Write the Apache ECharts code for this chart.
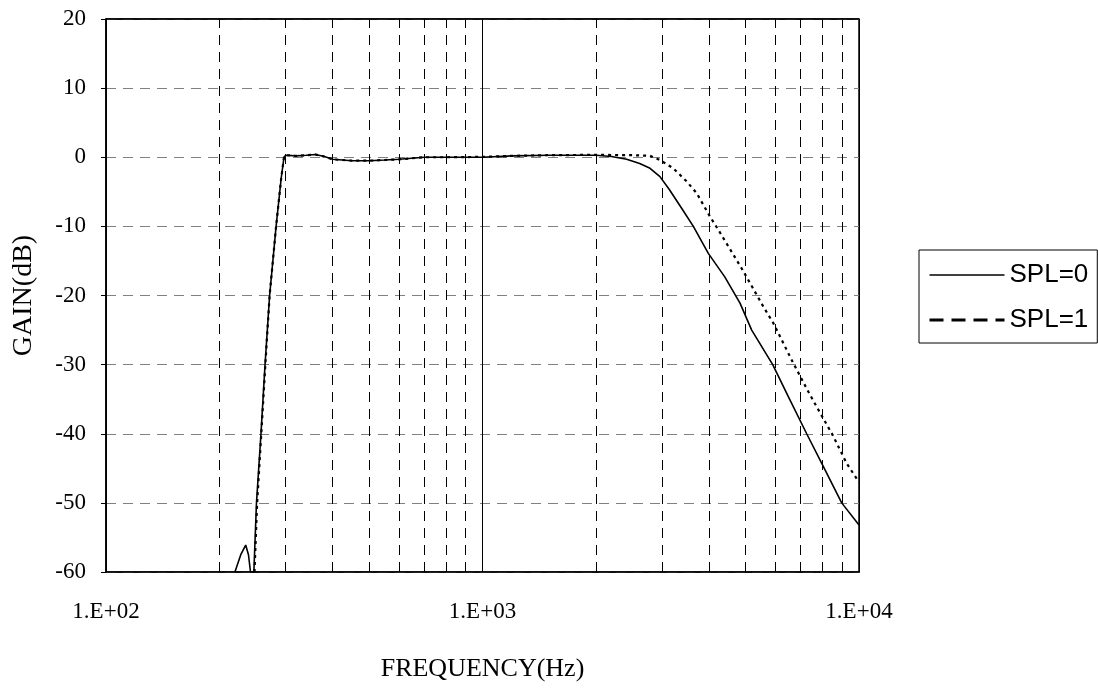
<!DOCTYPE html>
<html>
<head>
<meta charset="utf-8">
<script src="https://cdn.jsdelivr.net/npm/echarts@6/dist/echarts.min.js"></script>
<style>html,body{margin:0;padding:0;background:#fff;}#c{width:1098px;height:691px;}</style>
</head>
<body>
<div id="c"></div>
<script>
// ---- data ----
var seriesNames = ['SPL=0', 'SPL=1'];
var spl0 = [
  [220,-60],[228,-57.5],[235,-56.1],[239,-57.5],[242,-60],[247,-60],
  [251,-50],[258,-40],[264.5,-30],[272,-20],[283,-10],[292,-3],[297,0],
  [300,0.3],[320,0.2],[340,0.3],[360,0.4],[380,0.1],[400,-0.3],[450,-0.5],
  [500,-0.5],[550,-0.4],[600,-0.3],[700,0],[800,0],[1000,0],[1200,0.2],
  [1500,0.3],[2000,0.3],[2200,0.1],[2415,-0.3],[2615,-0.9],[2786,-1.6],
  [2960,-2.8],[3138,-4.7],[3400,-7.6],[3631,-10],[3979,-13.9],[4400,-17.3],
  [4830,-21.1],[5188,-25],[5900,-30],[6500,-34.7],[7262,-40],[8000,-44.5],
  [8995,-50],[10000,-53.2]
];
var spl1 = [
  [248,-60],[252,-50],[258.5,-40],[265,-30],[272,-20],[283,-10],[292,-3],[297,0],
  [300,0.3],[320,0.2],[340,0.3],[360,0.4],[380,0.1],[400,-0.3],[450,-0.5],
  [500,-0.5],[550,-0.4],[600,-0.3],[700,0],[800,0],[1000,0.05],[1200,0.2],
  [1500,0.3],[2000,0.35],[2500,0.3],[2786,0.2],[2960,-0.4],[3212,-1.6],
  [3486,-3.5],[3707,-5.2],[4022,-8.6],[4230,-10.5],[4638,-14.1],[4881,-16.1],
  [5135,-18.2],[5570,-21.6],[5922,-24],[6692,-29.8],[7333,-33.9],[7719,-36.1],
  [8515,-40.2],[9276,-44.3],[10000,-47]
];
var xTickValues = [100, 1000, 10000];
var xTickLabels = ['1.E+02', '1.E+03', '1.E+04'];
var minorGridFreqs = [200,300,400,500,600,700,800,900,2000,3000,4000,5000,6000,7000,8000,9000];
var yMin = -60, yMax = 20, yStep = 10;

// ---- chart ----
var chart = echarts.init(document.getElementById('c'), null, {renderer: 'canvas'});
var serif = 'Liberation Serif, Times New Roman, serif';
var gridMarks = minorGridFreqs.map(function (f) { return {xAxis: f}; });
gridMarks.push({yAxis: yMax, lineStyle: {color: '#000', width: 1.5, type: 'solid'}});
var option = {
  backgroundColor: '#fff',
  animation: false,
  grid: {left: 106, right: 239, top: 19, bottom: 119, show: true, borderColor: '#000', borderWidth: 1.5, backgroundColor: 'transparent'},
  legend: {
    orient: 'vertical', left: 919, top: 250,
    padding: [12, 9, 10, 9], itemGap: 19, itemWidth: 75, itemHeight: 14,
    borderColor: '#000', borderWidth: 1, backgroundColor: '#fff',
    textStyle: {fontFamily: 'Liberation Sans, Arial, sans-serif', fontSize: 26, color: '#000'},
    data: [
      {name: seriesNames[0], itemStyle: {opacity: 0}, lineStyle: {color: '#000', width: 1.5, type: 'solid'}},
      {name: seriesNames[1], itemStyle: {opacity: 0}, lineStyle: {color: '#000', width: 3, type: [14, 8]}}
    ]
  },
  xAxis: {
    type: 'log', logBase: 10, min: 100, max: 10000,
    name: 'FREQUENCY(Hz)', nameLocation: 'middle', nameGap: 84,
    nameTextStyle: {fontFamily: serif, fontSize: 26, color: '#000'},
    axisLine: {show: true, onZero: false, lineStyle: {color: '#000', width: 1.5}},
    axisTick: {show: false},
    axisLabel: {
      margin: 28, fontFamily: serif, fontSize: 23, color: '#000',
      formatter: function (v) {
        for (var i = 0; i < xTickValues.length; i++) {
          if (Math.abs(v - xTickValues[i]) < 1e-6 * xTickValues[i]) return xTickLabels[i];
        }
        return '';
      }
    },
    splitLine: {show: true, lineStyle: {color: '#000', width: 1, type: 'solid'}}
  },
  yAxis: {
    type: 'value', min: yMin, max: yMax, interval: yStep,
    name: 'GAIN(dB)', nameLocation: 'middle', nameGap: 68, nameRotate: 90,
    nameTextStyle: {fontFamily: serif, fontSize: 28, color: '#000'},
    axisLine: {show: true, onZero: false, lineStyle: {color: '#000', width: 1.5}},
    axisTick: {show: true, length: 5, lineStyle: {color: '#000'}},
    axisLabel: {margin: 20, fontFamily: serif, fontSize: 23, color: '#000'},
    splitLine: {show: true, lineStyle: {color: '#808080', width: 1, type: [10, 7]}}
  },
  series: [
    {
      name: seriesNames[0], type: 'line', data: spl0, symbol: 'none', showSymbol: false,
      lineStyle: {color: '#000', width: 1.6, type: 'solid'}, itemStyle: {color: '#000'}, z: 3,
      markLine: {
        silent: true, symbol: ['none', 'none'], label: {show: false},
        lineStyle: {color: '#000', width: 1, type: [10, 7]},
        emphasis: {disabled: true},
        data: gridMarks,
        z: 1
      }
    },
    {
      name: seriesNames[1], type: 'line', data: spl1, symbol: 'none', showSymbol: false,
      lineStyle: {color: '#000', width: 2.2, type: [3, 4]}, itemStyle: {color: '#000'}, z: 4
    }
  ]
};
chart.setOption(option);
</script>
</body>
</html>
